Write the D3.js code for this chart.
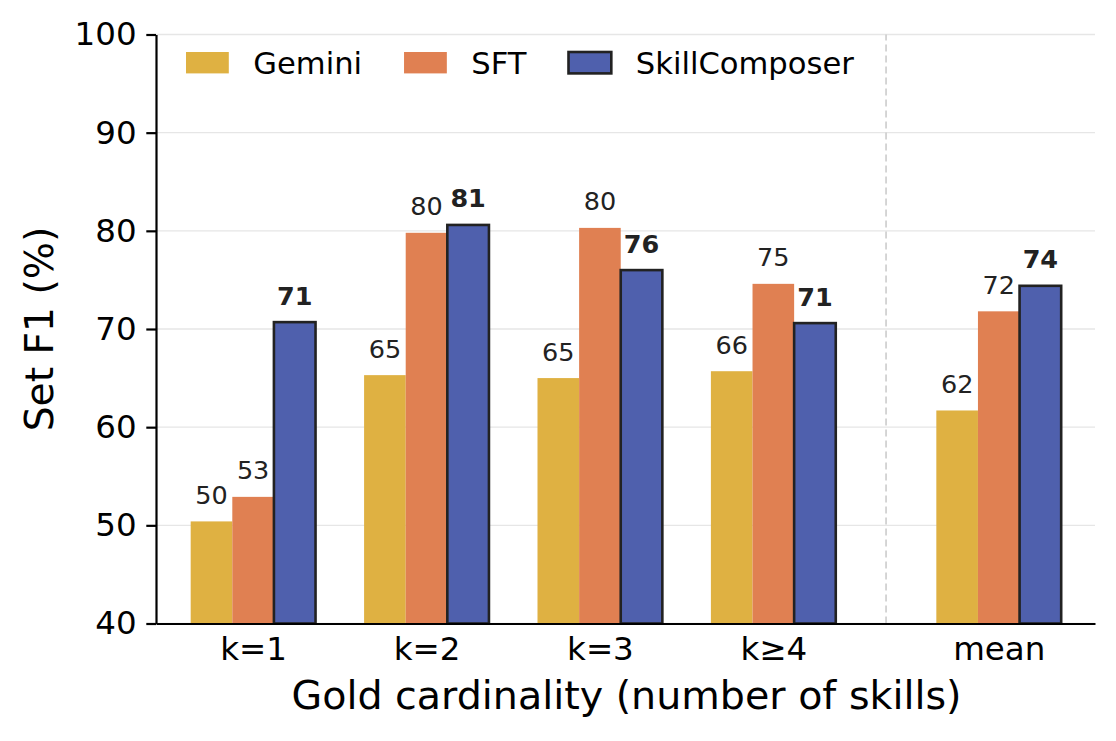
<!DOCTYPE html>
<html>
<head>
<meta charset="utf-8">
<script src="https://cdn.jsdelivr.net/npm/d3@7"></script>
<style>
  body { margin: 0; background: #fff; }
  svg { display: block; font-family: "DejaVu Sans", sans-serif; }
</style>
</head>
<body>
<div id="chart"></div>
<script>
// data
var categories = ["k=1", "k=2", "k=3", "k\u22654", "mean"];
var positions = [0, 1, 2, 3, 4.3];
var seriesNames = ["Gemini", "SFT", "SkillComposer"];
var gemini = [50.4, 65.3, 65.0, 65.7, 61.7];
var sft = [52.9, 79.8, 80.3, 74.6, 71.8];
var skillComposer = [70.7, 80.6, 76.0, 70.6, 74.4];
var yTicks = [40, 50, 60, 70, 80, 90, 100];

var colors = ["#dfb142", "#e08052", "#4f60ad"];
var allSeries = [gemini, sft, skillComposer];

var W = 1116, H = 741;
var svg = d3.select("#chart").append("svg")
  .attr("width", W)
  .attr("height", H);

// axes area in pixels
var x = d3.scaleLinear().domain([-0.56, 4.855]).range([156, 1095]);
var y = d3.scaleLinear().domain([40, 100]).range([623.5, 34.5]);
var barW = 0.24;

// gridlines
svg.append("g").selectAll("line")
  .data(yTicks)
  .enter().append("line")
  .attr("x1", x.range()[0]).attr("x2", x.range()[1])
  .attr("y1", d => y(d)).attr("y2", d => y(d))
  .attr("stroke", "#e6e6e6")
  .attr("stroke-width", 1.4);

// dashed separator before the mean group
svg.append("line")
  .attr("x1", x(3.65)).attr("x2", x(3.65))
  .attr("y1", y(40)).attr("y2", y(100))
  .attr("stroke", "#cccccc")
  .attr("stroke-width", 1.6)
  .attr("stroke-dasharray", "7,4");

// bars
var fmt = d3.format(".0f");
allSeries.forEach(function(vals, s) {
  var g = svg.append("g");
  var offset = (s - 1) * barW;
  g.selectAll("rect")
    .data(vals)
    .enter().append("rect")
    .attr("x", (d, i) => x(positions[i] + offset - barW / 2))
    .attr("width", x(barW) - x(0))
    .attr("y", d => y(d))
    .attr("height", d => y(40) - y(d))
    .attr("fill", colors[s])
    .attr("stroke", s === 2 ? "#222222" : "none")
    .attr("stroke-width", s === 2 ? 2.6 : 0);

  g.selectAll("text")
    .data(vals)
    .enter().append("text")
    .attr("x", (d, i) => x(positions[i] + offset))
    .attr("y", d => y(d) - 17.5)
    .attr("text-anchor", "middle")
    .attr("fill", "#222222")
    .style("font-size", "25.5px")
    .style("font-weight", s === 2 ? "bold" : "normal")
    .text(d => fmt(d));
});

// y axis
var yAxis = svg.append("g")
  .attr("transform", "translate(" + x.range()[0] + ",0)")
  .call(d3.axisLeft(y).tickValues(yTicks).tickSize(9.7).tickPadding(9.7).tickSizeOuter(0));
yAxis.select(".domain").attr("stroke", "#000").attr("stroke-width", 2.2);
yAxis.selectAll(".tick line").attr("stroke", "#000").attr("stroke-width", 2.2);
yAxis.selectAll(".tick text")
  .attr("fill", "#000")
  .style("font-family", "DejaVu Sans")
  .style("font-size", "32.5px");

// x axis
var xAxis = svg.append("g")
  .attr("transform", "translate(0," + y(40) + ")")
  .call(d3.axisBottom(x).tickValues(positions)
    .tickFormat((d, i) => categories[i])
    .tickSize(0).tickPadding(13).tickSizeOuter(0));
xAxis.select(".domain").attr("stroke", "#000").attr("stroke-width", 2.2);
xAxis.selectAll(".tick text")
  .attr("fill", "#000")
  .style("font-family", "DejaVu Sans")
  .style("font-size", "32.5px");

// axis titles
svg.append("text")
  .attr("x", (x.range()[0] + x.range()[1]) / 2 + 1)
  .attr("y", 709)
  .attr("text-anchor", "middle")
  .style("font-size", "39.6px")
  .text("Gold cardinality (number of skills)");

svg.append("text")
  .attr("transform", "translate(52.5," + (y(70)) + ") rotate(-90)")
  .attr("text-anchor", "middle")
  .style("font-size", "39.2px")
  .text("Set F1 (%)");

// legend
var legend = svg.append("g").attr("transform", "translate(186,0)");
var lx = 0;
seriesNames.forEach(function(name, i) {
  legend.append("rect")
    .attr("x", lx).attr("y", 52)
    .attr("width", 42.8).attr("height", 21.4)
    .attr("fill", colors[i])
    .attr("stroke", i === 2 ? "#222222" : "none")
    .attr("stroke-width", i === 2 ? 2.6 : 0);
  var t = legend.append("text")
    .attr("x", lx + 42.8 + 24.5)
    .attr("y", 74)
    .style("font-size", "30.6px")
    .text(name);
  lx += 42.8 + 24.5 + t.node().getComputedTextLength() + 42;
});
</script>
</body>
</html>
